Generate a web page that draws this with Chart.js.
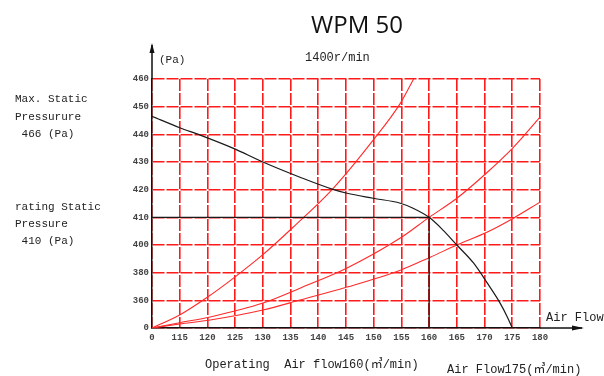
<!DOCTYPE html>
<html>
<head>
<meta charset="utf-8">
<script src="https://cdn.jsdelivr.net/npm/chart.js@4/dist/chart.umd.min.js"></script>
<style>
  html, body { margin: 0; padding: 0; background: #fff; }
  #wrap { width: 604px; height: 376px; position: relative; }
</style>
</head>
<body>
<div id="wrap"><canvas id="c" width="604" height="376"></canvas></div>
<script>
// Axis tick labels (the axes are broken: 0 then 115.., and 0 then 360..)
const flowTicks = [0, 115, 120, 125, 130, 135, 140, 145, 150, 155, 160, 165, 170, 175, 180];
const pressureTicks = [0, 360, 380, 400, 410, 420, 430, 440, 450, 460];

// Fan performance curve at 1400 r/min
const fanFlow = [0, 115, 118.7, 124.6, 130, 136.7, 142.5, 145.2, 149.9, 154.8, 157.1, 160, 162.5, 165, 168, 170.5, 172.8, 174.1, 175];
const fanPressure = [446.5, 442.4, 439.7, 435, 430, 424.5, 420.2, 418.7, 416.9, 415.1, 413.3, 410, 405.4, 400, 387, 372.4, 324, 144, 0];

// System resistance curves
const sysAFlow = [0, 115, 119.9, 125, 130, 135.5, 142.7, 149.9, 154.8, 157.2];
const sysAPressure = [0, 169, 362, 377, 393, 406.5, 420.5, 437.9, 451.2, 460];
const sysBFlow = [0, 115, 120.5, 130, 136.7, 145.2, 154.8, 160, 165, 170.5, 175.2, 180];
const sysBPressure = [0, 69, 144, 324, 368.8, 383.4, 402.5, 410, 416.9, 426.3, 435.3, 446.2];
const sysCFlow = [0, 115, 120.5, 130, 136.7, 145.2, 154.8, 160.2, 165, 170.5, 175.2, 180];
const sysCPressure = [0, 52, 104, 234, 360.2, 369.6, 381.8, 391.2, 400, 404.7, 409.7, 415.5];

// Rated operating point
const ratedFlow = 160;
const ratedPressure = 410;

// Position of a value on a piecewise (broken) axis, in grid-step units
function stepPos(v, ticks) {
  for (let k = 1; k < ticks.length; k++) {
    if (v <= ticks[k]) return (k - 1) + (v - ticks[k - 1]) / (ticks[k] - ticks[k - 1]);
  }
  return ticks.length - 1;
}
function toPoints(flows, pressures) {
  return flows.map((f, i) => ({ x: stepPos(f, flowTicks), y: stepPos(pressures[i], pressureTicks) }));
}

const monoFont = '"Liberation Mono", "Noto Sans CJK SC", monospace';

const decorations = {
  id: 'decorations',
  afterDraw(chart) {
    const ctx = chart.ctx;
    const a = chart.chartArea;
    ctx.save();
    // extended axes with arrowheads
    ctx.strokeStyle = '#111';
    ctx.fillStyle = '#111';
    ctx.lineWidth = 1.5;
    ctx.beginPath();
    ctx.moveTo(a.left, a.top);
    ctx.lineTo(a.left, a.top - 34);
    ctx.moveTo(a.right, a.bottom);
    ctx.lineTo(a.right + 42, a.bottom);
    ctx.stroke();
    ctx.beginPath();
    ctx.moveTo(a.left, a.top - 36);
    ctx.lineTo(a.left - 2.5, a.top - 26);
    ctx.lineTo(a.left + 2.5, a.top - 26);
    ctx.closePath();
    ctx.fill();
    ctx.beginPath();
    ctx.moveTo(a.right + 44, a.bottom);
    ctx.lineTo(a.right + 32, a.bottom - 2.5);
    ctx.lineTo(a.right + 32, a.bottom + 2.5);
    ctx.closePath();
    ctx.fill();

    // title
    ctx.fillStyle = '#111';
    ctx.font = '24px "Open Sans", "Liberation Sans", sans-serif';
    ctx.textAlign = 'center';
    ctx.textBaseline = 'alphabetic';
    ctx.fillText('WPM 50', 357, 33);

    ctx.fillStyle = '#222';
    ctx.textAlign = 'left';
    ctx.font = '11px ' + monoFont;
    ctx.fillText('(Pa)', a.left + 7, a.top - 16);
    ctx.font = '12px ' + monoFont;
    ctx.fillText('1400r/min', 305, 61);

    ctx.font = '11px ' + monoFont;
    ctx.fillText('Max. Static', 15, 102);
    ctx.fillText('Pressurure', 15, 120);
    ctx.fillText(' 466 (Pa)', 15, 137);
    ctx.fillText('rating Static', 15, 210);
    ctx.fillText('Pressure', 15, 227);
    ctx.fillText(' 410 (Pa)', 15, 244);

    ctx.font = '12px ' + monoFont;
    ctx.fillText('Air Flow', a.right + 6, a.bottom - 7);
    ctx.fillText('Operating  Air flow160(\u33A5/min)', 205, 368);
    ctx.fillText('Air Flow175(\u33A5/min)', 447, 373);
    ctx.restore();
  }
};

const ctx = document.getElementById('c').getContext('2d');
new Chart(ctx, {
  type: 'line',
  data: {
    datasets: [
      {
        data: toPoints(fanFlow, fanPressure),
        borderColor: '#1a1a1a', borderWidth: 1.2, pointRadius: 0,
        cubicInterpolationMode: 'monotone'
      },
      {
        data: toPoints([0, ratedFlow, ratedFlow], [ratedPressure, ratedPressure, 0]),
        borderColor: '#1a1a1a', borderWidth: 1.3, pointRadius: 0, tension: 0
      },
      {
        data: toPoints(sysAFlow, sysAPressure),
        borderColor: '#ff2a2a', borderWidth: 1.1, pointRadius: 0,
        cubicInterpolationMode: 'monotone'
      },
      {
        data: toPoints(sysBFlow, sysBPressure),
        borderColor: '#ff2a2a', borderWidth: 1.1, pointRadius: 0,
        cubicInterpolationMode: 'monotone'
      },
      {
        data: toPoints(sysCFlow, sysCPressure),
        borderColor: '#ff2a2a', borderWidth: 1.1, pointRadius: 0,
        cubicInterpolationMode: 'monotone'
      }
    ]
  },
  options: {
    responsive: false,
    animation: false,
    layout: { padding: { top: 79, right: 64, left: 0, bottom: 0 } },
    plugins: { legend: { display: false }, tooltip: { enabled: false }, title: { display: false } },
    scales: {
      x: {
        type: 'linear', min: 0, max: flowTicks.length - 1,
        afterFit(s) { s.height = 48; },
        afterBuildTicks(s) { s.ticks = flowTicks.map((_, i) => ({ value: i })); },
        grid: { color: '#ff1a1a', lineWidth: 1.6, drawTicks: false },
        border: { color: '#111', width: 1.5, dash: [12, 2] },
        ticks: {
          padding: 4, color: '#444',
          font: { family: monoFont, size: 9, weight: 'bold' },
          callback: (v) => flowTicks[v]
        }
      },
      y: {
        type: 'linear', min: 0, max: pressureTicks.length - 1,
        afterFit(s) { s.width = 152; },
        afterBuildTicks(s) { s.ticks = pressureTicks.map((_, i) => ({ value: i })); },
        grid: { color: '#ff1a1a', lineWidth: 1.6, drawTicks: false },
        border: { color: '#111', width: 1.5, dash: [12, 2] },
        ticks: {
          padding: 3, color: '#444',
          font: { family: monoFont, size: 9, weight: 'bold' },
          callback: (v) => pressureTicks[v]
        }
      }
    }
  },
  plugins: [decorations]
});
</script>
</body>
</html>
